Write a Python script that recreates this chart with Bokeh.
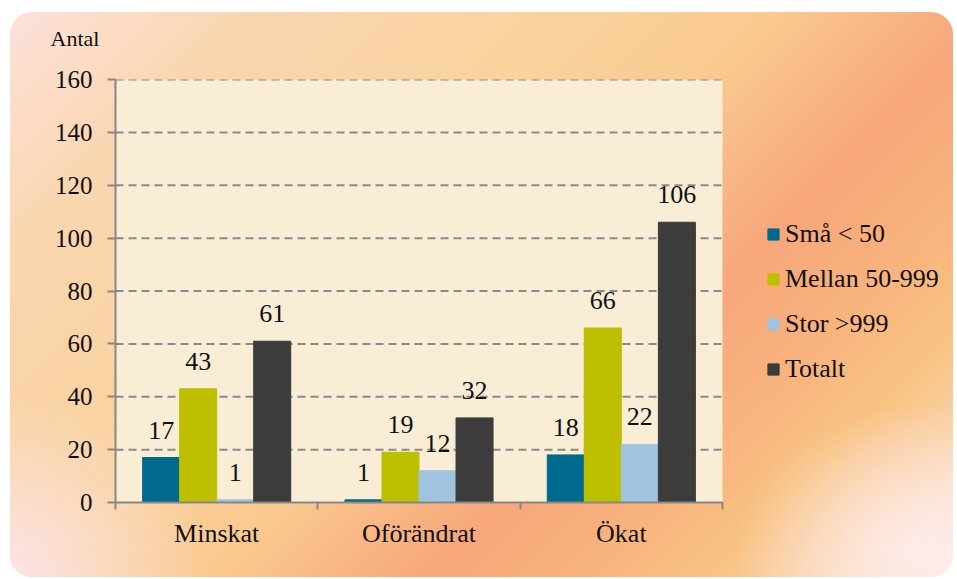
from bokeh.plotting import figure
from bokeh.models import ColumnDataSource, LabelSet, Title, FixedTicker, BoxAnnotation
from bokeh.embed import file_html
from bokeh.resources import INLINE

categories = ["Minskat", "Oförändrat", "Ökat"]
series_names = ["Små < 50", "Mellan 50-999", "Stor >999", "Totalt"]
sma = [17, 1, 18]
mellan = [43, 19, 66]
stor = [1, 12, 22]
totalt = [61, 32, 106]
y_ticks = [0, 20, 40, 60, 80, 100, 120, 140, 160]

series_values = [sma, mellan, stor, totalt]
colors = ["#00698C", "#BDBF00", "#A0C3E0", "#3C3C3C"]
offsets = [-1.5, -0.5, 0.5, 1.5]
bw = 0.183

FONT = "Liberation Serif"
W, H = 955, 598
LEFT, TOP, BOTTOM = 115, 99, 76
PLOT_W = 607  # pixel width of the category area
ncat = len(categories)
x_end = ncat * (W - LEFT) / PLOT_W

p = figure(width=W, height=H, x_range=(0, x_end), y_range=(0, 160),
           output_backend="svg", toolbar_location=None,
           min_border_left=LEFT, min_border_right=0,
           min_border_top=TOP, min_border_bottom=BOTTOM)
p.styles = {
    "margin-top": "-20px",
    "clip-path": "inset(32px 2px 1px 10px round 22px)",
    "background": (
        "radial-gradient(ellipse 22% 30% at 0% 100%, rgba(252,228,234,1) 0%, rgba(252,228,234,0) 100%),"
        "radial-gradient(ellipse 20% 25% at 97% 96%, rgba(253,236,234,1) 0%, rgba(253,236,234,0) 100%),"
        "linear-gradient(135deg, #FCE3E3 0%, #FAD6B0 18%, #F9D29C 40%, #FAC990 52%, "
        "#F7A77B 66%, #F8AE7C 73%, #F9C282 84%, #FCE6DD 100%)"
    ),
}
p.border_fill_alpha = 0
p.background_fill_alpha = 0
p.outline_line_color = None

# plot area
p.add_layout(BoxAnnotation(left=0, right=ncat, bottom=y_ticks[0], top=y_ticks[-1],
                           fill_color="#F9EDD6", fill_alpha=1, line_color=None,
                           level="underlay"))

# grid lines (restricted to the category area)
gy = y_ticks[1:]
p.segment(x0=[0] * len(gy), x1=[ncat] * len(gy), y0=gy, y1=gy,
          line_color="#8A8A8A", line_width=2, line_dash="8 5")

for vals, name, col, off in zip(series_values, series_names, colors, offsets):
    xs = [i + 0.5 + off * bw for i in range(ncat)]
    src = ColumnDataSource(dict(x=xs, top=vals, txt=[str(v) for v in vals]))
    p.vbar(x="x", top="top", bottom=0, width=bw, source=src,
           fill_color=col, line_color=col, legend_label=name)
    p.add_layout(LabelSet(x="x", y="top", text="txt", source=src,
                          text_align="center", text_baseline="alphabetic",
                          y_offset=19, text_font=FONT, text_font_size="26px",
                          text_color="#111111"))

# axes
axis_col = "#878787"
p.xaxis.bounds = (0, ncat)
p.xaxis.ticker = FixedTicker(ticks=[i + 0.5 for i in range(ncat)],
                             minor_ticks=list(range(ncat + 1)))
p.xaxis.major_label_overrides = {i + 0.5: c for i, c in enumerate(categories)}
p.xaxis.major_tick_line_color = None
p.xaxis.minor_tick_out = 7
p.xaxis.minor_tick_in = 0
p.xaxis.minor_tick_line_width = 2
p.xaxis.minor_tick_line_color = axis_col
p.xaxis.major_label_standoff = 9

p.yaxis.ticker = FixedTicker(ticks=y_ticks, minor_ticks=[])
p.yaxis.major_tick_out = 8
p.yaxis.major_tick_in = 0
p.yaxis.major_tick_line_width = 2
p.yaxis.major_tick_line_color = axis_col
p.yaxis.major_label_standoff = 15

for ax in (p.xaxis, p.yaxis):
    ax.axis_line_color = axis_col
    ax.axis_line_width = 2
    ax.major_label_text_font = FONT
    ax.major_label_text_font_size = "25px"
    ax.major_label_text_color = "#111111"
p.xaxis.major_label_text_font_size = "26px"

p.xgrid.grid_line_color = None
p.ygrid.grid_line_color = None

p.add_layout(Title(text="Antal", align="left", offset=-65, standoff=57,
                   text_font=FONT, text_font_size="22px",
                   text_font_style="normal", text_color="#111111"), "above")

lg = p.legend[0]
lg.location = (651, 118)
lg.orientation = "vertical"
lg.background_fill_alpha = 0
lg.border_line_color = None
lg.padding = 0
lg.margin = 0
lg.glyph_width = 14
lg.glyph_height = 14
lg.label_standoff = 5
lg.spacing = 15
lg.label_text_font = FONT
lg.label_text_font_size = "26px"
lg.label_text_color = "#111111"

open("out.html", "w").write(file_html(p, INLINE))
